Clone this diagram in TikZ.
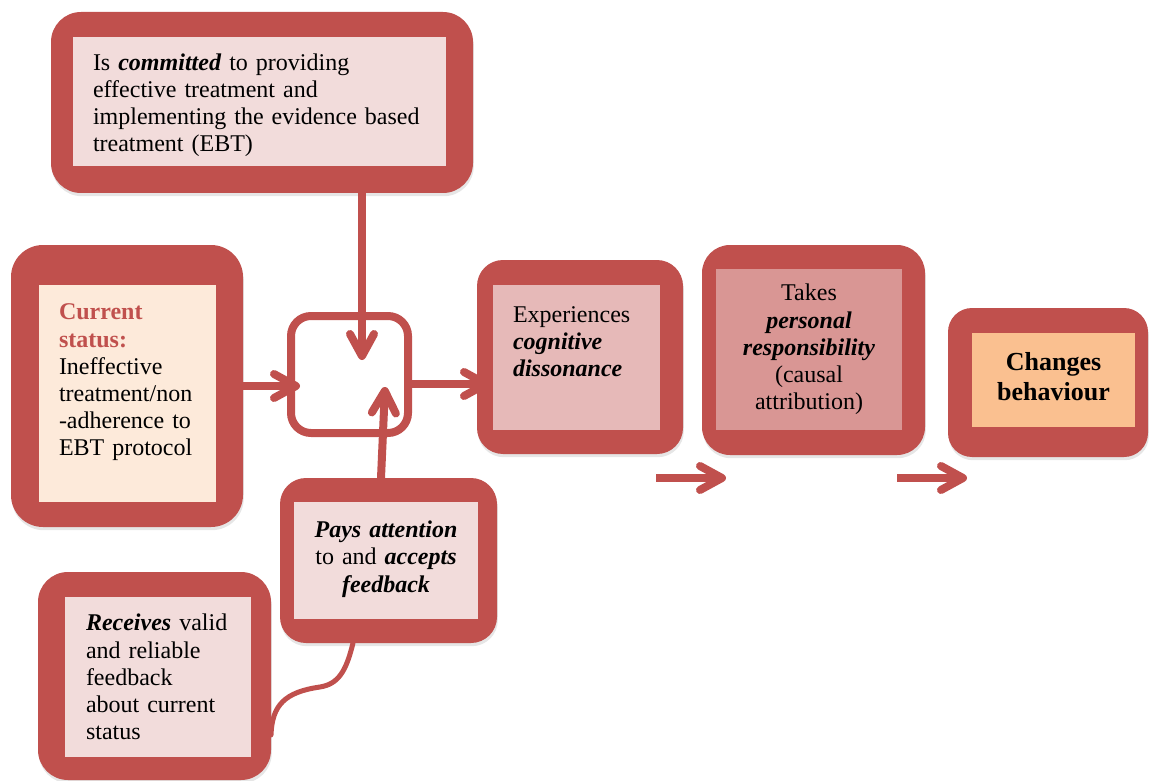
\documentclass[tikz,border=0pt]{standalone}
\usepackage{fontspec}
\setmainfont{Liberation Serif}
\usetikzlibrary{arrows.meta,shadows}
\definecolor{accent}{HTML}{C0504D}
\definecolor{paleRose}{HTML}{F2DCDB}
\definecolor{palePeach}{HTML}{FDEADA}
\definecolor{midRose}{HTML}{E6B9B8}
\definecolor{deepRose}{HTML}{D99694}
\definecolor{apricot}{HTML}{FAC090}
\newcommand\bfit[1]{\textbf{\textit{#1}}}
% panel text: 12pt with slightly tighter word spaces
\newcommand\panelfont{\fontsize{12}{13.6}\selectfont\setlength{\spaceskip}{2.4pt plus 1pt}}
% invisible struts that raise the first line's height or the last line's depth,
% so that a panel's lines sit off centre
\newcommand\padtop[1]{\rule{0pt}{#1}}
\newcommand\padbottom[1]{\rule[-#1]{0pt}{#1}}
\tikzset{
  frame/.style={fill=accent, draw=none, rounded corners=#1, inner sep=0pt, outer sep=0pt,
    drop shadow={opacity=0.2, shadow xshift=0.4pt, shadow yshift=-1.6pt}},
  frame/.default=15pt,
  panel/.style={draw=none, inner ysep=0pt, outer sep=0pt, font=\panelfont},
  flow/.style={draw=accent, line width=4pt, -{Straight Barb[length=11pt,width=12pt,round]}},
  tie/.style={draw=accent, line width=2.5pt, line cap=round},
}
\begin{document}
\begin{tikzpicture}[x=0.5pt,y=-0.5pt]
\useasboundingbox (0,0) rectangle (1152,781);

% commitment box
\node[frame, minimum width=211pt, minimum height=90.5pt] (commitFrame) at (262,102.5) {};
\node[panel, fill=paleRose, text width=166.5pt, inner xsep=10pt, minimum height=64.5pt, align=left]
  (commit) at (259.5,101.5)
  {\padtop{12.2pt}Is \bfit{committed} to providing\\ effective treatment and\\ implementing the evidence based\\ treatment (EBT)};

% current status box
\node[frame=16pt, minimum width=116pt, minimum height=141pt] (statusFrame) at (127,386) {};
\node[panel, fill=palePeach, text width=68.5pt, inner xsep=10pt, minimum height=108.5pt,
  align=left] (status) at (127.5,393.5)
  {\textcolor{accent}{\textbf{Current}}\\ \textcolor{accent}{\textbf{status:}}\\ Ineffective\\ treatment/non\\ -adherence to\\ EBT protocol\padbottom{13.6pt}};

% central junction
\node[draw=accent, line width=4pt, fill=white, rounded corners=10pt, minimum width=58.5pt,
  minimum height=58.5pt, inner sep=0pt] (hub) at (349.5,374.5) {};

% cognitive dissonance box
\node[frame=13pt, minimum width=103pt, minimum height=97pt] (dissFrame) at (580,357) {};
\node[panel, fill=midRose, text width=63.5pt, inner xsep=10pt, minimum height=72.5pt,
  align=left] (diss) at (576.5,357.5)
  {Experiences\\ \bfit{cognitive}\\ \bfit{dissonance}\padbottom{16pt}};

% personal responsibility box
\node[frame=14pt, minimum width=111.5pt, minimum height=105pt] (respFrame) at (813.5,350) {};
\node[panel, fill=deepRose, text width=85pt, inner xsep=4pt, minimum height=80.5pt, align=center]
  (resp) at (809,349.5)
  {Takes\\ \bfit{personal}\\ \bfit{responsibility}\\ (causal\\ attribution)};

% behaviour change box
\node[frame=12pt, minimum width=100pt, minimum height=74.5pt] (changeFrame) at (1048,382.5) {};
\node[panel, fill=apricot, text width=73.5pt, inner xsep=4pt, minimum height=47pt, align=center,
  font=\fontsize{13}{15}\selectfont\bfseries] (change) at (1053.5,380)
  {Changes\\ behaviour\padbottom{4pt}};

% attention box
\node[frame=13pt, minimum width=108.5pt, minimum height=82.5pt] (paysFrame) at (388.5,560.5) {};
\node[panel, fill=paleRose, text width=84pt, inner xsep=4pt, minimum height=58.5pt,
  align=center] (pays) at (386,560.5)
  {\bfit{Pays attention}\\ to and \bfit{accepts}\\ \bfit{feedback}\padbottom{4pt}};

% feedback box
\node[frame=15pt, minimum width=116.5pt, minimum height=104pt] (recvFrame) at (154.5,676) {};
\node[panel, fill=paleRose, text width=72pt, inner xsep=10.5pt, minimum height=80pt, align=left]
  (recv) at (158,677)
  {\bfit{Receives} valid\\ and reliable\\ feedback\\ about current\\ status};

% connector end points
\coordinate (hubIn) at (300,386);
\coordinate (hubOut) at (490,384);
\coordinate (topTip) at (362,360);
\coordinate (botTip) at (385,387);
\coordinate (botFoot) at (381,480);
\coordinate (stepAs) at (656,478);
\coordinate (stepAe) at (726,478);
\coordinate (stepBs) at (897,478);
\coordinate (stepBe) at (967,478);
\coordinate (tieA) at (269,735);
\coordinate (tieB) at (353,643);

% connectors
\draw[flow] (statusFrame.east) -- (hubIn);
\draw[flow] (hub.east |- hubOut) -- (hubOut);
\draw[flow] (commitFrame.south -| topTip) -- (topTip);
\draw[flow] (paysFrame.north -| botFoot) -- (botTip);
\draw[flow] (stepAs) -- (stepAe);
\draw[flow] (stepBs) -- (stepBe);
\draw[tie] (recvFrame.east |- tieA) .. controls (272,705) and (285,692) .. (320,687)
  .. controls (338,684) and (346,672) .. (paysFrame.south -| tieB);
\end{tikzpicture}
\end{document}
